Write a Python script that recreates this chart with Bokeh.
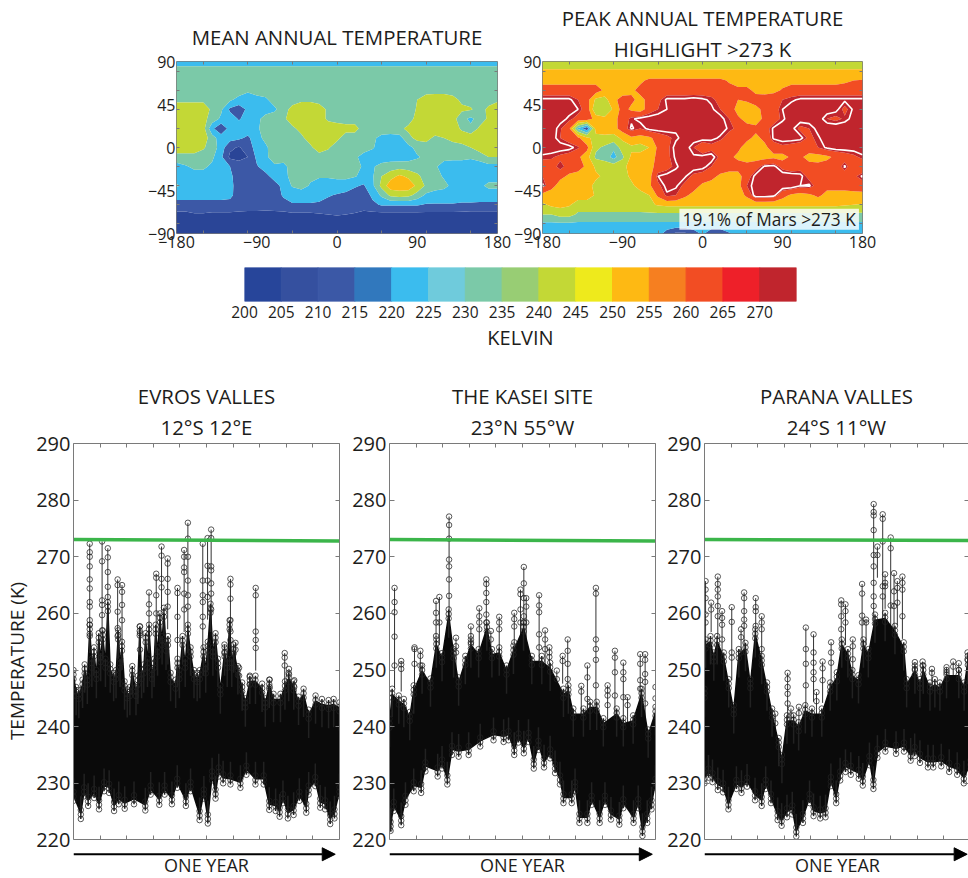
from bokeh.plotting import figure
from bokeh.layouts import column, row
from bokeh.models import (Arrow, NormalHead, FixedTicker, LinearAxis, Range1d, Title)
from bokeh.core.properties import value
from bokeh.embed import file_html
from bokeh.resources import INLINE

FONT = "Open Sans"
INK = "#1d1d1b"
GREY = "#7a7a7a"

# ---------- map data: temperature (K) on a 10 degree grid, north to south ----------
lons = list(range(-180, 181, 10))
lats = list(range(-90, 91, 10))
contour_levels = [200, 210, 220, 230, 240, 250, 260, 270, 280]
contour_colors = ["#2a4597", "#3c58a6", "#3bbcee", "#7bc9a8", "#c3d836", "#feb913", "#f24d23", "#c0252d"]

mean_n90 = [225]*37
mean_n80 = [235]*37
mean_n70 = [236]*37
mean_n60 = [236]*8 + [232] + [236]*28
mean_n50 = [238,238,238,238,236,236,232,226,224,225,228,235,236,236,238,238,236,236,236,236,236,236,236,236,236,236,236,240,245,246,246,243,238,236,236,236,238]
mean_n40 = [245,245,245,245,238,232,218,215,222,224,225,228,236,243,246,246,245,238,235,235,235,235,235,231,235,235,235,241,245,246,246,246,242,241,236,242,246]
mean_n30 = [245,245,245,243,236,228,225,219,224,227,234,236,238,245,246,246,245,238,236,236,236,236,236,236,236,236,236,243,246,246,246,244,233,228,234,242,246]
mean_n20 = [246,246,246,244,222,212,224,225,226,228,235,236,236,238,243,246,246,246,245,243,243,236,236,236,236,238,242,246,246,246,246,246,238,232,242,246,246]
mean_n10 = [246,246,246,246,234,225,224,222,218,226,233,236,236,236,238,244,246,246,242,236,236,235,232,227,226,226,237,243,243,238,240,243,246,246,246,246,246]
mean_0   = [246,246,246,241,236,225,212,209,215,224,228,236,236,236,236,238,245,241,236,235,235,235,231,225,224,225,227,233,236,236,236,236,236,240,246,246,246]
mean_s10 = [236,236,236,236,232,222,208,207,210,222,226,240,233,235,236,236,236,236,236,233,232,226,225,225,225,225,226,229,232,232,232,232,232,231,233,240,240]
mean_s20 = [226,229,232,232,228,225,220,215,214,219,225,226,228,233,235,235,235,235,235,235,235,228,229,233,235,236,235,235,234,231,227,226,226,226,226,226,226]
mean_s30 = [226,226,226,226,226,226,222,215,214,214,217,224,229,231,232,232,231,231,232,232,231,226,229,240,246,252,248,242,236,233,229,226,226,226,226,226,226]
mean_s40 = [231,228,225,225,225,225,223,215,214,214,214,216,223,231,234,229,226,226,226,226,221,219,228,243,256,257,256,248,238,234,232,228,226,225,228,232,232]
mean_s50 = [223,223,223,223,223,223,222,216,214,214,214,216,221,224,224,224,222,221,219,217,216,215,222,232,242,244,243,236,228,226,226,226,226,226,225,225,225]
mean_s60 = [217]*13 + [219]*4 + [216]*4 + [215,218] + [221]*5 + [219]*4 + [218]*5
mean_s70 = [207,207,209,209,208,208,208,207,206,206,205,206,207,208,208,208,209,210,211,210,209,207,207,207,207,207,207,207,207,207,207,207,207,206,206,206,206]
mean_s80 = [203]*37
mean_s90 = [201]*37

peak_n90 = [246]*37
peak_n80 = [251]*37
peak_n70 = [256]*11 + [258] + [262]*9 + [259] + [256]*12 + [258,260,261]
peak_n60 = [265]*7 + [258,257,256,258,263] + [265]*9 + [263,262,262,258,256,257,261] + [265]*9
peak_n50 = [274,274,274,274,270,264,248,246,258,263,262,257,263,268,274,274,274,275,274,272,267,265,260,261,263,265,266,270,272,274,274,274,274,274,274,274,274]
peak_n40 = [276,276,276,275,273,266,241,240,252,264,258,255,265,270,273,275,276,276,276,274,270,266,256,256,258,262,266,273,276,276,276,276,276,275,268,274,276]
peak_n30 = [276,276,275,272,267,266,256,253,257,264,272,275,276,276,276,276,276,276,276,277,275,270,262,256,256,262,265,272,276,276,276,276,270,268,271,275,276]
peak_n20 = [276,276,271,262,228,212,254,256,256,265,274,270,275,276,276,274,275,273,274,276,276,272,268,264,262,266,274,276,275,268,270,275,277,277,277,277,277]
peak_n10 = [276,276,270,265,262,252,247,247,246,252,258,256,258,264,268,272,275,276,276,275,272,266,264,262,258,262,274,276,276,275,268,272,277,277,277,277,277]
peak_0   = [276,276,276,275,271,263,242,238,232,245,248,246,250,262,268,275,276,270,262,267,264,264,262,256,252,258,264,268,266,264,266,270,274,276,276,276,276]
peak_s10 = [272,271,268,266,262,254,238,236,226,238,252,254,256,262,268,274,275,274,275,276,268,262,258,256,256,256,258,256,262,262,256,256,258,262,265,268,272]
peak_s20 = [264,266,273,266,264,258,248,246,246,247,254,252,256,264,267,272,276,276,275,270,266,264,264,263,266,274,275,267,263,266,264,263,264,264,274,262,262]
peak_s30 = [270,268,263,258,256,255,252,248,246,246,252,254,256,273,275,276,274,268,266,263,258,256,256,266,275,277,277,277,277,275,267,265,264,263,264,268,274]
peak_s40 = [274,264,255,256,256,254,247,246,246,246,248,254,258,268,275,274,268,264,258,256,256,255,256,270,276,277,277,277,277,273,274,266,263,263,263,264,265]
peak_s50 = [256,254,254,254,254,254,249,246,246,246,246,246,250,262,272,270,262,257,255,255,255,255,255,262,277,277,275,264,258,256,258,262,257,257,257,257,257]
peak_s60 = [248,252,253,251] + [246]*8 + [248,251] + [252]*20 + [251,250,249]
peak_s70 = [240,240,244,244] + [238]*33
peak_s80 = [228]*37
peak_s90 = [225]*14 + [215,208,208,215,222,213,213,219] + [225]*15

mean_rows = [mean_s90, mean_s80, mean_s70, mean_s60, mean_s50, mean_s40, mean_s30, mean_s20, mean_s10, mean_0,
             mean_n10, mean_n20, mean_n30, mean_n40, mean_n50, mean_n60, mean_n70, mean_n80, mean_n90]
peak_rows = [peak_s90, peak_s80, peak_s70, peak_s60, peak_s50, peak_s40, peak_s30, peak_s20, peak_s10, peak_0,
             peak_n10, peak_n20, peak_n30, peak_n40, peak_n50, peak_n60, peak_n70, peak_n80, peak_n90]

# ---------- colour bar ----------
cbar_edges = [200, 205, 210, 215, 220, 225, 230, 235, 240, 245, 250, 255, 260, 265, 270, 275]
cbar_colors = ["#27459a", "#35509f", "#3b58a6", "#3178bd", "#3bbcee", "#6fcbdc", "#7bc9a8", "#98cd74",
               "#c3d836", "#eeea1c", "#feb913", "#f67f20", "#f24d23", "#ee2029", "#c0252d"]
cbar_ticks = [200, 205, 210, 215, 220, 225, 230, 235, 240, 245, 250, 255, 260, 265, 270]

# ---------- time series: x in percent of the year, T in kelvin ----------
evros_hi_x = [0,1,2,3.4,4.2,5.2,6.1,6.9,7.7,8.6,9.5,10.2,11,12,12.9,13.8,15.1,16,16.8,17.5,18.2,19.2,20.2,21.2,22.1,23.5,24.2,24.9,25.6,26.4,27.1,27.8,28.4,29.5,30.3,30.9,31.6,32.5,33.3,34,34.8,35.5,36.5,38.4,39.1,39.8,41,42,43,44,45.3,46.5,47.5,48.9,49.7,50.5,51.5,52.4,53.4,54.3,55.2,56.8,57.8,58.7,59.5,60.2,61.8,63.4,64.6,66.3,68.4,70.9,72.1,73.6,75.2,77.8,79.5,80.9,82.8,84.6,86.5,88.4,91,93.4,95.9,97.8,100]
evros_hi_t = [250,247,246.5,248.3,251,249,258,252,254,250,256.5,253,257,252,262,251,249.5,250,257,252,255,248,246.6,247,250.7,247,249,257.7,250,251,256.5,252,258,250,252,258,254,260,256,261,255,256,249.5,248.3,252,250,256,252,258,254,250,249.5,250,254,251,255,261.7,254,256.5,252,247.3,254,252,258.8,252,254.5,250.7,247.8,245,249,249,247.6,245,248.3,245.8,245.8,248,249.5,248,245.3,246.7,243,245.5,244.9,244.7,244.9,244.3]
evros_lo_x = [0,2.75,4,5.5,7.75,9.6,11.5,13.4,15.25,17,19.25,22.75,27,29,32.25,34.25,37,39,42.25,44,47.4,49,50.5,52.1,53.4,54.6,56.25,59,62.75,65,68.4,71.5,73.6,76,77.5,78.75,80.6,82.75,84.9,87.5,88.4,90.9,92.75,94.6,96.5,98.1,100]
evros_lo_t = [226.9,223.7,227.7,226,227.4,225.4,228.6,228.3,225.1,226.3,225.5,226.3,225.2,228,226.2,228,226.3,229.2,226,228.6,223.5,227.3,222.9,230.5,227.3,231.2,230,229.8,229.2,231.5,229.8,229.8,225.3,225.1,224.1,226.5,223.8,224.4,226.9,224.8,228,229.5,225.7,225.4,222.8,223.8,227.7]
evros_spike_x = [6.1,10.75,12.9,16.6,18.25,25,28.4,31.1,33.1,35.4,39.1,41.6,43,48.6,50.4,51.75,56.75,59,60.9,62.25,66.25,68.5,73.75,79.4,81,83]
evros_spike_t = [[272.3,270.8,270,268.3,266,264.4,262,261.2,258.8,258,256],[272.7,269.2,262.3,261.5,259.7,257],[271.5,269.9,267.3,264.7,262.9],[266,265,260.3,257.4,256],[265,263.8,261.5,258.8],[257.7,256.5,253.6],[263.7,261.6,260],[267,266.3,263.2,260],[271.8,270.2,266.1,264.6],[269.7,268.8,266.1,263.8,261.2],[264.5,263.6,259.4,255.3],[271.2,270,268.1,267.3,263.5,260.7],[276,273.2,270,265.8,263.2,261.2],[272.3,265.8,263.2,262,259.4,257.7],[273.3,268.4,265.8,262.9],[274.8,273.3,268.3,267.6,265.3,263.5,260.7],[254.5,253],[266.1,265.1,262.6,258.8,256.8,255.3],[254.8,253.6],[250.4,249],[248.8,247.5],[264.5,263.2,256.8,255.3,253.9],[248.3,247],[253,252.2,250.8],[250.2,249.2],[248.2,247]]

kasei_hi_x = [0,1,3.5,5.4,7.6,9.1,12.25,15.4,17.6,19.75,22.25,24.1,26,28.5,30.6,33.5,36.6,38.5,41.25,44,46.6,50.4,53.5,57.25,60.4,65.4,67.25,69.1,72.9,75.4,77.9,80.4,85.4,87.9,91.6,94.75,97.25,100]
kasei_hi_t = [241.4,246.7,245.5,244.9,242.6,247.3,250.8,248.5,255.4,253,260.7,253.7,248.7,252.5,255.4,253.7,258.4,253.7,254,250.8,254.3,258.4,252.5,252.5,251.3,246.7,247.3,243.2,243.2,244.4,244.4,241.5,243.2,241.5,242,246.7,239.5,243.5]
kasei_lo_x = [0,0.4,1.6,4.4,6,9.1,11.9,13.5,18.1,19.75,21.75,23.5,26,29.75,34.1,39.1,42.9,44.75,46.9,48.5,50.5,52.25,54.25,56,58.1,60.4,62.25,64.1,65.4,68.5,69.75,71.4,74.4,76,79,81,83.25,86.4,87.9,91.75,93.5,95.1,96.9,98.5,100]
kasei_lo_t = [221.9,221.6,225.1,222.6,226.2,228.6,228.3,232.1,231.2,232.6,229.8,235,234.7,235,236.5,237.6,237.3,237.6,235,237.2,235.3,237.3,232.6,235.9,232.8,234.4,231.8,229.8,226.5,226.5,228.6,223,223,226.2,223,226.2,223.6,222.7,225.6,223,225.6,220.7,223,225.4,229.2]
kasei_spike_x = [1.9,4.4,9.4,11.6,17.5,18.75,22.4,25,30.6,33.75,36.4,38.1,41.25,46.9,49.25,50.5,51.4,56.25,58.5,60.1,62.9,65.1,67,72.1,74.4,77.6,82,84.75,87.9,89.5,94.25,96.1,100]
kasei_spike_t = [[264.5,262,260.2,255.9,250.8],[251.6,251,250.2],[254,253.7,251.1],[253.4,252.5,250.8],[262.2,260.1,258.4,256],[262.9,258.4],[277.1,275.6,273.2,269.5,268.3,266,263.1],[255.7,254.2,253.1],[257.7,256,254.9],[260.9,259.5,258.4,257.2],[266,265.2,263.6,262,259.8,258.4],[256.9,255.4],[259.4,258.4,257.2],[260.1,259,257.7,254.9],[264.2,263.4,260.7,258.4],[268.2,265.3,262.7,259.5,258.4],[262.7,261.2,258.4],[263.2,261.4,260.2,256.3,254],[257,255.4,253.7],[254,253.1,252.3],[249.9,248.4],[252.5,251.6],[255.4,253.4,251.1,248.4],[247.2,246.2],[250.8,248.7,244.9],[264.5,263.5,255.4,253.7,251.8,247.3],[247.3,246.4,245.5,243.8],[253.4,252.2,249.6,245.5],[251.3,249.6,248.4,245.2],[245.2,243.8],[252.8,251.1,248.2,246.7],[252.8,251.8,249.3,247.9,244.1],[247,245]]

parana_hi_x = [0,0.4,2.25,3.5,4.75,7.25,9.1,11,12.9,15.4,17.25,19.1,21.5,23.5,25.4,27.9,29.1,31,33.5,35.4,37.9,40.4,44.1,47.25,49.75,51.6,53.9,55.6,57.9,59.75,61.6,64.1,67.9,71.6,74.9,76,79.1,81,82.25,84.75,86.6,88.5,91,95.6,97.6,99,100]
parana_hi_t = [246.7,255.4,256,253.1,256,253.1,248.4,243.8,253.7,254.8,248.4,257.2,252.5,247.8,243.2,238,235,242,242,240.8,243.8,243.2,243.2,247.8,249.6,255.4,253.7,250,249.1,255.4,253.7,259.8,260.1,257.8,254.9,248.4,250.8,248.4,250.8,247.8,248.4,247.8,250,250,247.8,252.5,252]
parana_lo_x = [0,1.5,3,5,7,9,12,13.9,16,19,21.5,23,25,27.5,29,31,33,34.5,37,39.5,41,43.5,45.5,47.5,49.5,51,53,55,58,59.5,62,63.5,65,68,72,75,77.5,79,81,84,86,89,92,95,97.5,100]
parana_lo_t = [230,231,230.2,228.8,228.4,225.4,229,228.3,229.4,227,226,229,226.5,223.5,222.5,224,224.5,220.6,223,226.5,224.2,223.8,224,229.5,226.5,230.5,232,231.5,230.8,229.6,233.2,229,234.5,235.6,235.2,235.6,234,234.8,233.6,232.8,232.8,233,232,231.5,230,232.5]
parana_spike_x = [0.4,2.5,5,6.6,10.25,13.75,14.9,19.25,21.5,26.6,31.25,32.5,35.5,38.1,41,42.1,44.4,47.6,51.4,53,55.75,59.25,60.75,63.6,65,67,67.9,70,71.25,72.5,74.4,79.1,82,85.5,91,93.5,95.6,98.9]
parana_spike_t = [[265.7,264.2,262.7,259.8,258.4],[261.9,260.7],[266.5,265.2,264.2,263,261.3,259.5],[260.4,259.2,258,255.4],[261.1,258.5,253.1,252.2],[257.2,255.8,253.1],[263.7,262.7,260.4,258.9,257.8],[262.7,261.1,260.4,257.8],[259.5,258.4,257.2,253.7],[242.3,240.6],[249.5,248.4,247,245.8,244.1],[243.2,242],[243.5,242.4],[257.5,253.7,251.1,247.3],[256.3,253.1,251.3,249.6,248.4],[246.1,244.5],[251.5,250.3,248.2],[254.9,253.1,251.3],[262.3,261.6,259.5,257.2],[261.6,260.4,258.4],[255.4,254.2,251.9],[265.2,263.5,259.6,258.4],[258.9,258.4],[279.3,277.9,277.3,274.7,270.3,268.3,265.4,263,261.3],[271.8,270.3],[277.5,276.7,272.7,264.8,263],[266.9,265.4,264.8],[273.4,271.5,261.4],[267.1,263.9,261.3],[265.7,264.5,261.9],[266.5,265.4,264.2,259.5],[251.4,250.2],[251.5,250.8],[250.2,249.5],[250.5,249.6],[251.5,250.6],[251.2,250],[253.1,251.9]]

green_x = [0, 100]
evros_green = [273.05, 272.8]
kasei_green = [273.05, 272.8]
parana_green = [273.05, 272.85]
year_ticks = [10, 20, 30, 40, 50, 60, 70, 80, 90]
temp_ticks = [220, 230, 240, 250, 260, 270, 280, 290]
lon_marks = [-150, -100, -50, 0, 50, 100, 150]
lat_marks = [-80, -60, -40, -20, 0, 20, 40, 60, 80]


def silent_axis(ticks, bounds=None, line=False, tick=4, label=None, label_standoff=0):
    ax = LinearAxis(ticker=FixedTicker(ticks=ticks), axis_line_color=GREY if line else None,
                    major_tick_in=tick, major_tick_out=0, major_tick_line_color=GREY, minor_tick_line_color=None,
                    major_label_overrides={t: "" for t in ticks}, major_label_standoff=0)
    if bounds:
        ax.bounds = bounds
    if label:
        ax.axis_label = label
        ax.axis_label_standoff = label_standoff
        ax.axis_label_text_font = FONT
        ax.axis_label_text_font_size = "20.4px"
        ax.axis_label_text_font_style = "normal"
        ax.axis_label_text_color = INK
    return ax


def add_title(p, text, standoff, offset=0):
    p.add_layout(Title(text=text, align="center", offset=offset, text_font=FONT, text_font_size="20.4px",
                       text_font_style="normal", text_color=INK, standoff=standoff), "above")


def make_map(rows, width, height, left, right, top, bottom, upper, lower=None, title_standoff=2, highlight=False):
    p = figure(width=width, height=height, x_range=Range1d(-180, 180), y_range=Range1d(-90, 90),
               min_border_left=left, min_border_right=right, min_border_top=top, min_border_bottom=bottom,
               output_backend="svg", toolbar_location=None)
    p.contour(lons, lats, rows, contour_levels, fill_color=contour_colors, line_color=None)
    if highlight:
        p.contour(lons, lats, rows, [273], line_color="white", line_width=1.6)
    p.grid.visible = False
    p.outline_line_color = GREY
    p.xaxis.ticker = FixedTicker(ticks=[-180, -90, 0, 90, 180], minor_ticks=lon_marks)
    p.yaxis.ticker = FixedTicker(ticks=[-90, -45, 0, 45, 90], minor_ticks=lat_marks)
    for ax in (p.xaxis[0], p.yaxis[0]):
        ax.axis_line_color = None
        ax.major_tick_in = 0
        ax.major_tick_out = 0
        ax.minor_tick_in = 3
        ax.minor_tick_out = 0
        ax.minor_tick_line_color = GREY
        ax.major_label_text_font = FONT
        ax.major_label_text_font_size = "16px"
        ax.major_label_text_color = INK
    p.xaxis.major_label_standoff = 2
    p.yaxis.major_label_standoff = 1
    p.add_layout(silent_axis(lon_marks, tick=3, label=lower, label_standoff=-1), "above")
    p.add_layout(silent_axis(lat_marks, tick=3), "right")
    add_title(p, upper, title_standoff)
    return p


map_mean = make_map(mean_rows, 511, 256, 176, 14, 59, 23, "MEAN ANNUAL TEMPERATURE", title_standoff=22)
map_peak = make_map(peak_rows, 380, 256, 30, 29, 61, 23, "PEAK ANNUAL TEMPERATURE", "HIGHLIGHT >273 K",
                    title_standoff=-1, highlight=True)
map_peak.quad(left=[-26], right=[176], bottom=[-86], top=[-64], fill_color="white", fill_alpha=0.82, line_color=None)
map_peak.text(x=[75], y=[-75], text=["19.1% of Mars >273 K"], text_font=value(FONT), text_font_size="17.3px",
              text_color=INK, text_align="center", text_baseline="middle")

cbar = figure(width=968, height=124, x_range=Range1d(200, 275), y_range=Range1d(0, 1),
              min_border_left=244, min_border_right=172, min_border_top=11, min_border_bottom=79,
              output_backend="svg", toolbar_location=None)
cbar.quad(left=cbar_edges[:-1], right=cbar_edges[1:], bottom=0, top=1, fill_color=cbar_colors, line_color=cbar_colors)
cbar.grid.visible = False
cbar.outline_line_color = None
cbar.yaxis.visible = False
cbar.xaxis.ticker = FixedTicker(ticks=cbar_ticks)
cbar.xaxis.axis_line_color = None
cbar.xaxis.major_tick_line_color = None
cbar.xaxis.minor_tick_line_color = None
cbar.xaxis.major_label_text_font = FONT
cbar.xaxis.major_label_text_font_size = "15.5px"
cbar.xaxis.major_label_text_color = INK
cbar.xaxis.major_label_standoff = -2
cbar.xaxis.axis_label = "KELVIN"
cbar.xaxis.axis_label_text_font = FONT
cbar.xaxis.axis_label_text_font_style = "normal"
cbar.xaxis.axis_label_text_font_size = "20px"
cbar.xaxis.axis_label_text_color = INK
cbar.xaxis.axis_label_standoff = 3

PX_PER_K = 401 / 70
BOTTOM_EXTRA = 39


def make_panel(upper, lower, hi_x, hi_t, lo_x, lo_t, spike_x, spike_t, green, width, left, right, x_end, arrow_end,
               ylabel=None, closed=True):
    p = figure(width=width, height=498, x_range=Range1d(0, x_end),
               y_range=Range1d(220 - BOTTOM_EXTRA / PX_PER_K, 290),
               min_border_left=left, min_border_right=right, min_border_top=58, min_border_bottom=0,
               output_backend="svg", toolbar_location=None)
    p.grid.visible = False
    p.outline_line_color = None
    p.segment(x0=spike_x, y0=[min(t) - 4 for t in spike_t], x1=spike_x, y1=[max(t) for t in spike_t],
              line_color="#333333", line_width=1)
    # solid body, with stacks of open circles forming its fuzzy rim
    p.patch(hi_x + lo_x[::-1], [t - 1 for t in hi_t] + [t + 1 for t in lo_t[::-1]],
            fill_color="#0a0a0a", line_color="#0a0a0a", line_width=1.5)
    p.segment(x0=hi_x, y0=[t - 5 for t in hi_t], x1=hi_x, y1=hi_t, line_color="#222222", line_width=1.5)
    p.segment(x0=lo_x, y0=lo_t, x1=lo_x, y1=[t + 4 for t in lo_t], line_color="#222222", line_width=1.5)
    cx, cy = [], []
    for x, ts in zip(spike_x, spike_t):
        for t in ts:
            cx.append(x)
            cy.append(t)
    for x, t in zip(hi_x, hi_t):
        for k in range(3):
            cx.append(x)
            cy.append(t - 0.8 * k)
    for x, t in zip(lo_x, lo_t):
        for k in range(3):
            cx.append(x)
            cy.append(t + 0.8 * k)
    p.scatter(cx, cy, marker="circle", size=5.5, fill_color=None, line_color="#222222", line_alpha=0.75, line_width=1)
    p.line(green_x, green, line_color="#3bb54a", line_width=3.5)
    p.yaxis.ticker = FixedTicker(ticks=temp_ticks)
    p.yaxis.bounds = (220, 290)
    p.yaxis.axis_line_color = GREY
    p.yaxis.major_tick_in = 5
    p.yaxis.major_tick_out = 0
    p.yaxis.major_tick_line_color = GREY
    p.yaxis.minor_tick_line_color = None
    p.yaxis.major_label_text_font = FONT
    p.yaxis.major_label_text_font_size = "20px"
    p.yaxis.major_label_text_color = INK
    p.yaxis.major_label_standoff = 3
    if ylabel:
        p.yaxis.axis_label = ylabel
        p.yaxis.axis_label_text_font = FONT
        p.yaxis.axis_label_text_font_style = "normal"
        p.yaxis.axis_label_text_font_size = "19px"
        p.yaxis.axis_label_text_color = INK
        p.yaxis.axis_label_standoff = 3
    p.xaxis.ticker = FixedTicker(ticks=year_ticks)
    p.xaxis.fixed_location = 220
    p.xaxis.major_label_overrides = {t: "" for t in year_ticks}
    p.xaxis.axis_line_color = GREY
    p.xaxis.major_tick_in = 4
    p.xaxis.major_tick_out = 0
    p.xaxis.major_tick_line_color = GREY
    p.xaxis.minor_tick_line_color = None
    p.xaxis.major_label_standoff = 0
    # the top axis is added only now, so that the settings above stay on the bottom axis
    p.add_layout(silent_axis(year_ticks, line=True, label=lower, label_standoff=3), "above")
    add_title(p, upper, -1)
    p.add_layout(silent_axis(temp_ticks, bounds=(220, 290), line=closed), "right")
    p.text(x=[50], y=[220 - 25.5 / PX_PER_K], text=["ONE YEAR"], text_font=value(FONT), text_font_size="18px",
           text_color=INK, text_align="center", text_baseline="middle")
    p.add_layout(Arrow(end=NormalHead(size=13, fill_color="black", line_color="black"),
                       x_start=0, y_start=220 - 14.5 / PX_PER_K, x_end=arrow_end, y_end=220 - 14.5 / PX_PER_K,
                       line_color="black", line_width=2))
    return p


panel_a = make_panel("EVROS VALLES", "12°S 12°E", evros_hi_x, evros_hi_t, evros_lo_x, evros_lo_t, evros_spike_x, evros_spike_t,
                     evros_green, 345, 73, 6, 100, 98.4, ylabel="TEMPERATURE (K)")
panel_b = make_panel("THE KASEI SITE", "23°N 55°W", kasei_hi_x, kasei_hi_t, kasei_lo_x, kasei_lo_t, kasei_spike_x, kasei_spike_t,
                     kasei_green, 315, 44, 5, 100, 98.8)
panel_c = make_panel("PARANA VALLES", "24°S 11°W", parana_hi_x, parana_hi_t, parana_lo_x, parana_lo_t, parana_spike_x, parana_spike_t,
                     parana_green, 308, 44, 0, 99.25, 98.75, closed=False)

page = column(row(map_mean, map_peak), cbar, row(panel_a, panel_b, panel_c))
open("out.html", "w").write(file_html(page, INLINE))
